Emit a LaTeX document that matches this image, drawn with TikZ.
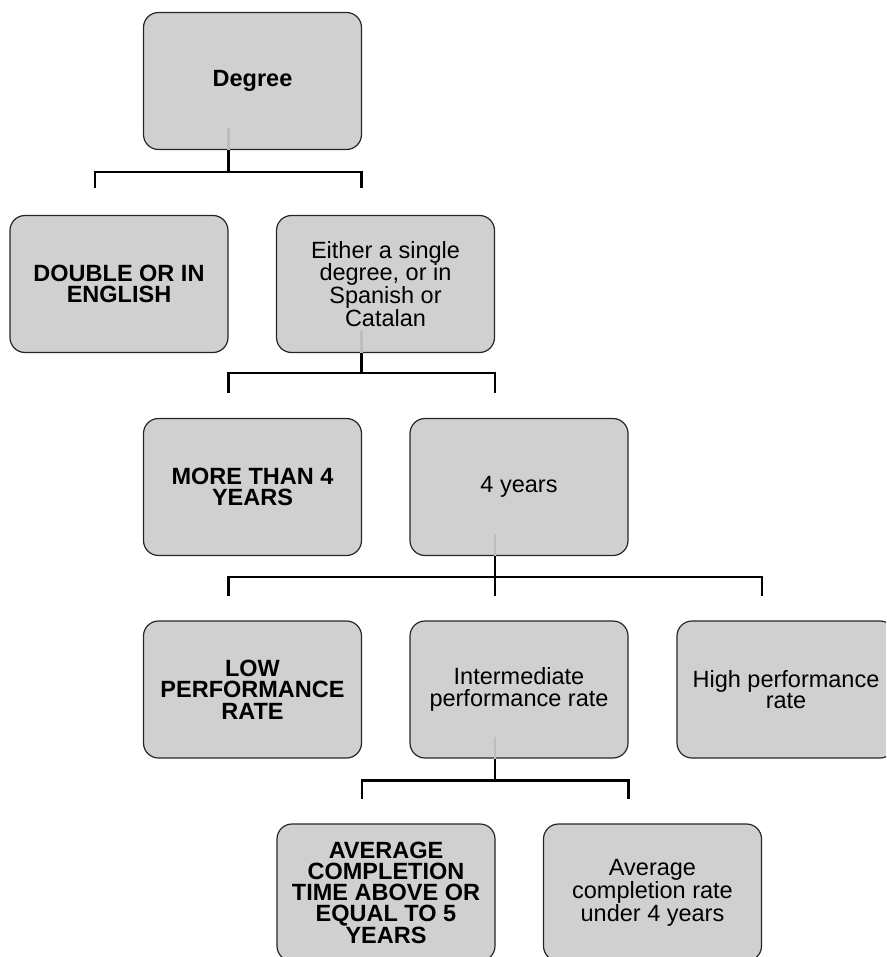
\documentclass[tikz,border=0pt]{standalone}
\usepackage{fontspec}
\setmainfont{Liberation Sans}
\definecolor{boxfill}{HTML}{D0D0D0}
\definecolor{stubgray}{HTML}{BDBDBD}
\begin{document}
\begin{tikzpicture}[x=1pt,y=-1pt,
  box/.style={draw=black!85, line width=1.2pt, fill=boxfill, rounded corners=15pt,
    minimum width=218pt, minimum height=137pt, inner sep=0pt, align=center,
    font=\fontsize{23.5}{21.3}\selectfont},
  bbox/.style={box, font=\fontsize{23.5}{21.3}\selectfont\bfseries},
  conn/.style={draw=black, line width=2.4pt},
  stub/.style={draw=stubgray, line width=2.4pt}]
\useasboundingbox (0,0) rectangle (886,957);
\clip (0,0) rectangle (886,957);

\node[bbox] (deg) at (252.5,81) {Degree};
\node[bbox] (dbl) at (119,284) {DOUBLE OR IN\\ENGLISH};
\node[box] (either) at (385.5,284) {Either a single\\degree, or in\\Spanish or\\Catalan};
\node[bbox] (more) at (252.5,487) {MORE THAN 4\\YEARS};
\node[box] (four) at (519,487) {4 years};
\node[bbox] (low) at (252.5,689.5) {LOW\\PERFORMANCE\\RATE};
\node[box] (inter) at (519,689.5) {Intermediate\\performance rate};
\node[box] (high) at (786,689.5) {High performance\\rate};
\node[bbox] (avgfive) at (386,892.5) {AVERAGE\\COMPLETION\\TIME ABOVE OR\\EQUAL TO 5\\YEARS};
\node[box] (avgfour) at (652.5,892.5) {Average\\completion rate\\under 4 years};

% stubs inside the parent boxes
\foreach \p in {deg,either,four,inter}
  \draw[stub] ([xshift=-24pt,yshift=22pt]\p.south) -- ([xshift=-24pt]\p.south);

% connectors
\draw[conn] ([xshift=-24pt]deg.south) -- ++(0,22) -| ([xshift=-24pt,yshift=27pt]dbl.north);
\draw[conn] ([xshift=-24pt]deg.south) -- ++(0,22) -| ([xshift=-24pt,yshift=27pt]either.north);

\draw[conn] ([xshift=-24pt]either.south) -- ++(0,20) -| ([xshift=-24pt,yshift=25pt]more.north);
\draw[conn] ([xshift=-24pt]either.south) -- ++(0,20) -| ([xshift=-24pt,yshift=25pt]four.north);

\draw[conn] ([xshift=-24pt]four.south) -- ++(0,21) -| ([xshift=-24pt,yshift=24pt]low.north);
\draw[conn] ([xshift=-24pt]four.south) -- ++(0,21) -| ([xshift=-24pt,yshift=24pt]inter.north);
\draw[conn] ([xshift=-24pt]four.south) -- ++(0,21) -| ([xshift=-24pt,yshift=24pt]high.north);

\draw[conn] ([xshift=-24pt]inter.south) -- ++(0,22) -| ([xshift=-24pt,yshift=24pt]avgfive.north);
\draw[conn] ([xshift=-24pt]inter.south) -- ++(0,22) -| ([xshift=-24pt,yshift=24pt]avgfour.north);
\end{tikzpicture}
\end{document}
